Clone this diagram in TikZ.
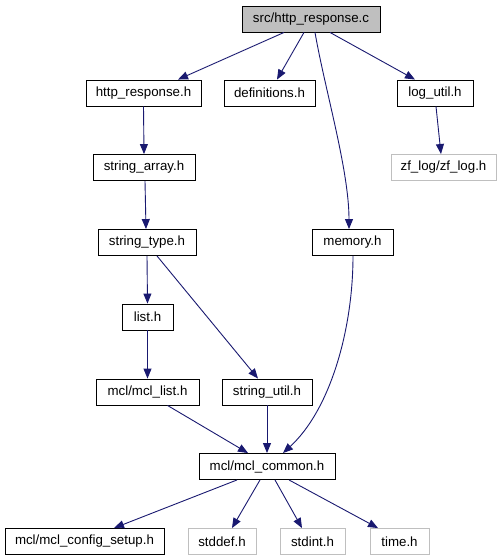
\documentclass[tikz,border=0pt]{standalone}
\usepackage{fontspec}
\setmainfont{Liberation Sans}
\usetikzlibrary{arrows.meta}
\definecolor{edgec}{HTML}{191970}
\definecolor{greyb}{HTML}{BFBFBF}
\tikzset{
  box/.style={draw=black, line width=0.9pt, fill=white, inner sep=0pt, minimum height=26pt, font=\fontsize{13.3}{16}\selectfont},
  ext/.style={box, draw=greyb},
  root/.style={box, fill=greyb},
  e/.style={draw=edgec, line width=0.9pt, -{Triangle[length=10pt,width=8pt]}},
}
\begin{document}
\begin{tikzpicture}[x=1pt,y=-1pt]
\useasboundingbox (0,0) rectangle (501,560);
\node[root, minimum width=138pt] (src) at (311,19) {src/http\_response.c};
\node[box, minimum width=115pt] (hr) at (143.5,93) {http\_response.h};
\node[box, minimum width=91pt] (def) at (269.5,93) {definitions.h};
\node[box, minimum width=76pt] (log) at (435,93) {log\_util.h};
\node[ext, minimum width=105pt] (zf) at (443.5,167.5) {zf\_log/zf\_log.h};
\node[box, minimum width=102pt] (sa) at (144,167.5) {string\_array.h};
\node[box, minimum width=98pt] (st) at (147,242.5) {string\_type.h};
\node[box, minimum width=81pt] (mem) at (352.5,242.5) {memory.h};
\node[box, minimum width=51pt] (list) at (147.5,317) {list.h};
\node[box, minimum width=103pt] (ml) at (147.5,392) {mcl/mcl\_list.h};
\node[box, minimum width=90pt] (su) at (267,392) {string\_util.h};
\node[box, minimum width=136pt] (mc) at (267,466.5) {mcl/mcl\_common.h};
\node[box, minimum width=159pt] (cs) at (84.5,541.5) {mcl/mcl\_config\_setup.h};
\node[ext, minimum width=68pt] (sd) at (222,541.5) {stddef.h};
\node[ext, minimum width=65pt] (si) at (312.5,541.5) {stdint.h};
\node[ext, minimum width=59pt] (tm) at (399.5,541.5) {time.h};

\draw[e] ([xshift=-27pt]src.south) -- ([xshift=34.5pt]hr.north);
\draw[e] ([xshift=-7pt]src.south) -- ([xshift=7.5pt]def.north);
\draw[e] ([xshift=4pt]src.south) .. controls (325,90) and (349,170) .. ([xshift=-3.5pt]mem.north);
\draw[e] ([xshift=19pt]src.south) -- ([xshift=-20pt]log.north);
\draw[e] (hr.south) -- (sa.north);
\draw[e] ([xshift=1pt]log.south) -- ([xshift=-2.5pt]zf.north);
\draw[e] ([xshift=1pt]sa.south) -- ([xshift=-1pt]st.north);
\draw[e] (st.south) -- (list.north);
\draw[e] ([xshift=10pt]st.south) -- ([xshift=-9pt]su.north);
\draw[e] (list.south) -- (ml.north);
\draw[e] ([xshift=20pt]ml.south) -- ([xshift=-19pt]mc.north);
\draw[e] (su.south) -- (mc.north);
\draw[e] ([xshift=0.5pt]mem.south) .. controls (353,330) and (330,410) .. ([xshift=16pt]mc.north);
\draw[e] ([xshift=-30pt]mc.south) -- ([xshift=29.5pt]cs.north);
\draw[e] ([xshift=-7pt]mc.south) -- ([xshift=10pt]sd.north);
\draw[e] ([xshift=8pt]mc.south) -- ([xshift=-10.5pt]si.north);
\draw[e] ([xshift=22pt]mc.south) -- ([xshift=-21.5pt]tm.north);
\end{tikzpicture}
\end{document}
